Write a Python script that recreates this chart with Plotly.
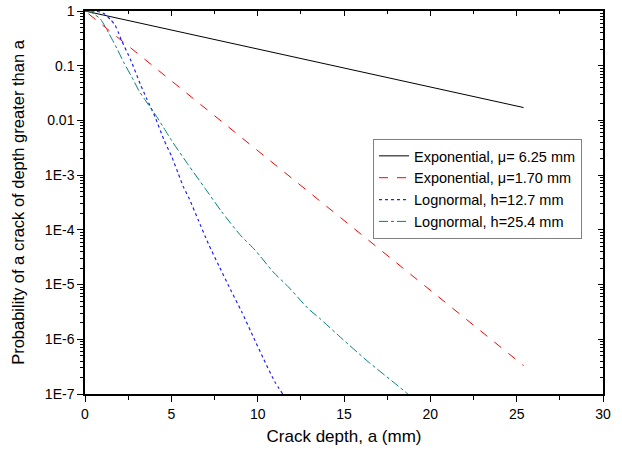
import plotly.graph_objects as go

# ---- data ----
exp625_a = [0.0, 25.4]
exp625_p = [1.0, 0.0172]

exp170_a = [0.2, 25.4]
exp170_p = [0.89, 3.3e-7]

logn127_a = [0.0, 0.6, 0.9, 1.14, 1.5, 1.74, 1.93, 2.12, 2.64, 3.22, 3.57, 4.05, 4.58,
             5.02, 5.4, 5.69, 6.02, 6.56, 7.14, 7.76, 8.44, 9.08, 9.65, 10.33, 11.0, 11.45]
logn127_log = [0.0, -0.005, -0.02, -0.055, -0.165, -0.26, -0.39, -0.54, -0.89, -1.35,
               -1.6, -1.93, -2.36, -2.66, -2.97, -3.21, -3.42, -3.82, -4.25, -4.66, -5.1,
               -5.5, -5.89, -6.35, -6.78, -7.0]

logn254_a = [0.0, 0.2, 0.5, 0.9, 1.4, 1.84, 2.26, 2.7, 3.13, 3.6, 4.15, 4.53, 5.02,
             5.98, 6.95, 7.92, 8.98, 9.85, 10.9, 11.77, 12.93, 13.6, 14.96, 16.4, 17.85, 18.7]
logn254_log = [0.0, -0.005, -0.05, -0.15, -0.42, -0.68, -0.95, -1.2, -1.46, -1.68, -1.93,
               -2.12, -2.37, -2.81, -3.24, -3.67, -4.09, -4.37, -4.77, -5.04, -5.44, -5.62,
               -6.01, -6.41, -6.78, -7.0]

ytick_vals = [1, 0.1, 0.01, 1e-3, 1e-4, 1e-5, 1e-6, 1e-7]
ytick_text = ["1", "0.1", "0.01", "1E-3", "1E-4", "1E-5", "1E-6", "1E-7"]
xtick_vals = [0, 5, 10, 15, 20, 25, 30]
xminor_vals = [2.5, 7.5, 12.5, 17.5, 22.5, 27.5]
yminor_vals = [m * 10.0 ** e for e in range(-7, 0) for m in range(2, 10)]

logn127_p = [10 ** v for v in logn127_log]
logn254_p = [10 ** v for v in logn254_log]

FONT = "Arial, Liberation Sans, sans-serif"

fig = go.Figure()
fig.add_trace(go.Scatter(x=exp625_a, y=exp625_p, mode="lines",
                         name="Exponential, μ= 6.25 mm",
                         line=dict(color="black", width=1, dash="solid")))
fig.add_trace(go.Scatter(x=exp170_a, y=exp170_p, mode="lines",
                         name="Exponential, μ=1.70 mm",
                         line=dict(color="#FF0000", width=1, dash="dash")))
fig.add_trace(go.Scatter(x=logn127_a, y=logn127_p, mode="lines",
                         name="Lognormal, h=12.7 mm",
                         line=dict(color="#2020FF", width=1.2, dash="dot", shape="spline",
                                   smoothing=0.6)))
fig.add_trace(go.Scatter(x=logn254_a, y=logn254_p, mode="lines",
                         name="Lognormal, h=25.4 mm",
                         line=dict(color="#008080", width=1, dash="dashdot", shape="spline",
                                   smoothing=0.6)))
fig.add_trace(go.Scatter(x=[None], y=[None], xaxis="x2", yaxis="y2",
                         showlegend=False, hoverinfo="skip"))

axis_common = dict(showgrid=False, zeroline=False, linecolor="black", linewidth=1.5,
                   tickcolor="black", tickwidth=1.2, automargin=False)

fig.update_layout(
    width=622, height=456,
    margin=dict(l=85, r=19, t=11, b=62),
    paper_bgcolor="white", plot_bgcolor="white",
    font=dict(family=FONT, size=14, color="black"),
    showlegend=True,
    legend=dict(x=0.556, y=0.666, xanchor="left", yanchor="top",
                bordercolor="#808080", borderwidth=1, bgcolor="white",
                font=dict(size=14.5), tracegroupgap=0, itemwidth=30),
    xaxis=dict(range=[0, 30], tickvals=xtick_vals, ticks="outside", ticklen=6,
               minor=dict(tickmode="array", tickvals=xminor_vals, ticks="outside",
                          ticklen=4, tickcolor="black"),
               title=dict(text="Crack depth, a (mm)", font=dict(size=17), standoff=10),
               **axis_common),
    yaxis=dict(type="log", range=[-7, 0], tickvals=ytick_vals, ticktext=ytick_text,
               ticks="outside", ticklen=6,
               minor=dict(tickmode="array", tickvals=yminor_vals, ticks="outside",
                          ticklen=3, tickcolor="black"),
               title=dict(text="Probability of a crack of depth greater than a",
                          font=dict(size=16.5), standoff=16),
               **axis_common),
    xaxis2=dict(range=[0, 30], overlaying="x", side="top", tickvals=xtick_vals,
                showticklabels=False, ticks="inside", ticklen=5,
                minor=dict(tickmode="array", tickvals=xminor_vals, ticks="inside",
                           ticklen=3, tickcolor="black"),
                **axis_common),
    yaxis2=dict(type="log", range=[-7, 0], overlaying="y", side="right",
                tickvals=ytick_vals, showticklabels=False, ticks="inside", ticklen=5,
                minor=dict(tickmode="array", tickvals=yminor_vals, ticks="inside",
                           ticklen=3, tickcolor="black"),
                **axis_common),
)

fig.write_html("out.html", config={"displayModeBar": False},
               post_script="document.body.style.margin='0';")
